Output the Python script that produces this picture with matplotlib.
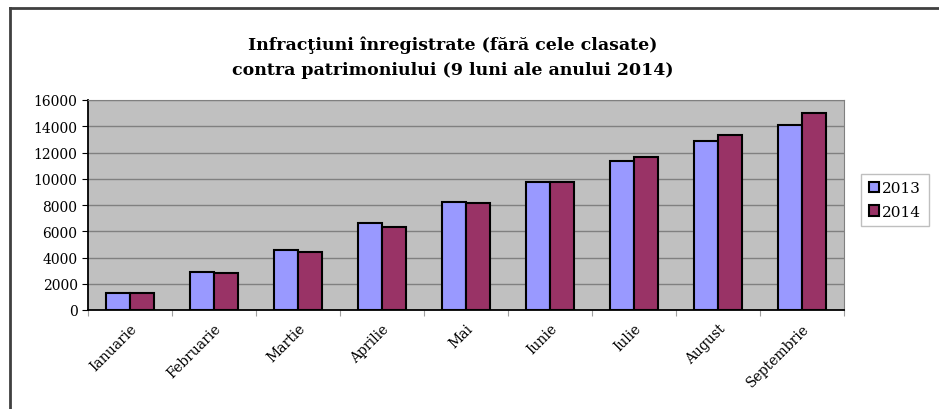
import numpy as np
import matplotlib.pyplot as plt
from matplotlib.lines import Line2D

plt.rcParams['font.family'] = ['DejaVu Serif']

# date
luni = ["Ianuarie", "Februarie", "Martie", "Aprilie", "Mai",
        "Iunie", "Iulie", "August", "Septembrie"]
an_2013 = [1270, 2870, 4550, 6600, 8200, 9750, 11350, 12850, 14120]
an_2014 = [1320, 2845, 4420, 6320, 8150, 9750, 11630, 13360, 15010]
ani = ["2013", "2014"]

fig = plt.figure(figsize=(9.39, 4.10), dpi=100)
ax = fig.add_axes([88 / 939, 1 - 311 / 410, (844 - 88) / 939, 210 / 410])

x = np.arange(len(luni))
w = 0.286
ax.bar(x - w / 2, an_2013, w, color="#9999ff", edgecolor="black", linewidth=1.5, label=ani[0], zorder=3)
ax.bar(x + w / 2, an_2014, w, color="#993366", edgecolor="black", linewidth=1.5, label=ani[1], zorder=3)

ax.set_facecolor("#c0c0c0")
ax.set_xlim(-0.5, len(luni) - 0.5)
ax.set_ylim(0, 16000)
ax.set_yticks(np.arange(0, 16001, 2000))
ax.yaxis.grid(True, color="#808080", linewidth=1)
ax.set_axisbelow(True)

# categorii: tick-uri intre grupuri
ax.set_xticks(np.arange(-0.5, len(luni), 1))
ax.set_xticklabels([])
ax.set_xticks(x, minor=True)
ax.set_xticklabels(luni, minor=True, rotation=45, ha="right", rotation_mode="anchor", fontsize=10)
ax.tick_params(axis="x", which="minor", length=0, pad=8)
ax.tick_params(axis="x", which="major", length=4, color="#a0a0a0")
ax.tick_params(axis="y", length=4, labelsize=10)

ax.spines["top"].set_color("#808080")
ax.spines["right"].set_color("#808080")
ax.spines["left"].set_linewidth(1.3)
ax.spines["bottom"].set_linewidth(1.3)

fig.text(0.482, 1 - 45 / 410, "Infracţiuni înregistrate (fără cele clasate)",
         ha="center", va="center", fontsize=12.5, fontweight="bold")
fig.text(0.482, 1 - 71 / 410, "contra patrimoniului (9 luni ale anului 2014)",
         ha="center", va="center", fontsize=12.5, fontweight="bold")

leg = ax.legend(loc="center left", bbox_to_anchor=(861 / 939, 1 - 201 / 410),
                bbox_transform=fig.transFigure, fontsize=11, frameon=True, fancybox=False,
                handlelength=0.7, handleheight=0.7, handletextpad=0.2, borderpad=0.5,
                labelspacing=0.6, borderaxespad=0)
leg.get_frame().set_edgecolor("#b0b0b0")
leg.get_frame().set_linewidth(1)

# chenar
fig.add_artist(Line2D([10 / 939, 10 / 939], [0, 1 - 9 / 410], color="#404040", linewidth=2, transform=fig.transFigure))
fig.add_artist(Line2D([10 / 939, 1], [1 - 9 / 410, 1 - 9 / 410], color="#404040", linewidth=2, transform=fig.transFigure))

plt.savefig("out.png", dpi=100)
